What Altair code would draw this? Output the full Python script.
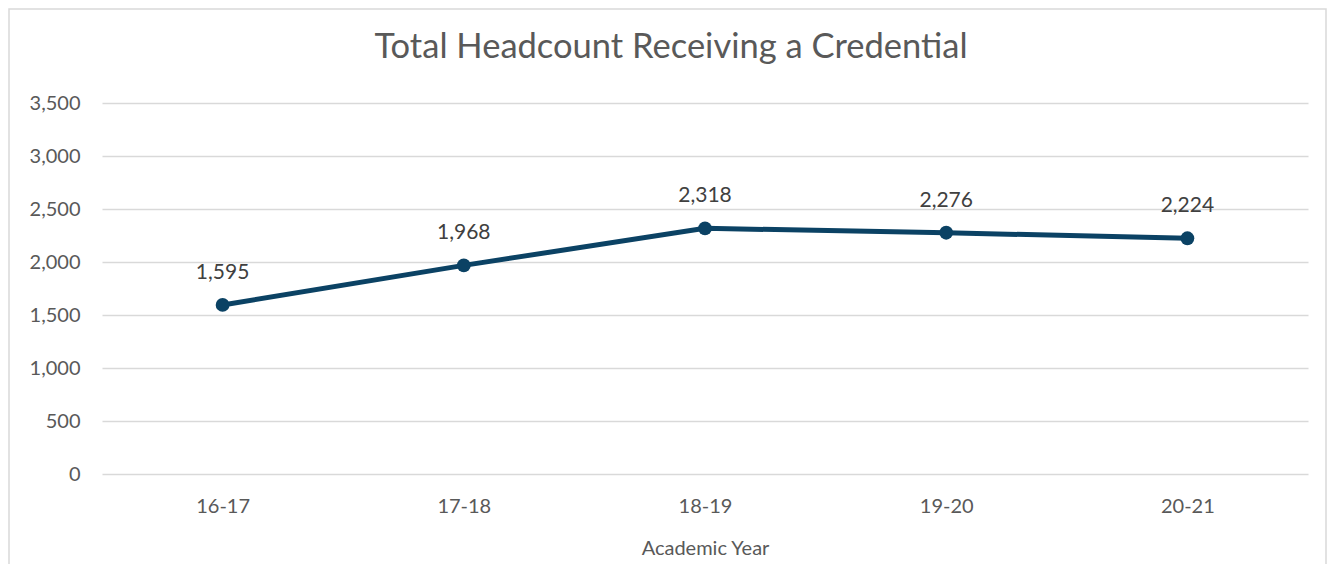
import altair as alt
import pandas as pd

years = ["16-17", "17-18", "18-19", "19-20", "20-21"]
headcount = [1595, 1968, 2318, 2276, 2224]
labels = ["1,595", "1,968", "2,318", "2,276", "2,224"]

df = pd.DataFrame({"year": years, "count": headcount, "label": labels})

FONT = "Lato"
GREY = "#595959"
LINE = "#0B4264"

x = alt.X("year:N", sort=years, title="Academic Year",
          scale=alt.Scale(paddingInner=0, paddingOuter=0),
          axis=alt.Axis(labelAngle=0, ticks=False, domain=False, grid=False, labelPadding=22,
                        labelFontSize=20, labelColor=GREY, labelFont=FONT,
                        titleFontSize=20, titleColor=GREY, titleFont=FONT,
                        titleFontWeight="normal", titlePadding=22))
y = alt.Y("count:Q", title=None,
          scale=alt.Scale(domain=[0, 3500]),
          axis=alt.Axis(values=[0, 500, 1000, 1500, 2000, 2500, 3000, 3500],
                        format=",d", ticks=False, domain=False, labelPadding=22,
                        labelFontSize=20, labelColor=GREY, labelFont=FONT,
                        gridColor="#d9d9d9", gridWidth=1.5))

base = alt.Chart(df)

frame = base.mark_rect(fill="white", fillOpacity=0, stroke="#d9d9d9", strokeWidth=1.5).encode(
    x=alt.value(-93), x2=alt.value(1224), y=alt.value(-94), y2=alt.value(470)
).transform_filter(alt.datum.year == "16-17")

line = base.mark_line(color=LINE, strokeWidth=5).encode(x=x, y=y)
points = base.mark_point(filled=True, color=LINE, size=190, opacity=1).encode(x=x, y=y)
text = base.mark_text(dy=-32, fontSize=21, font=FONT, color="#404040").encode(
    x=x, y=y, text="label:N")

chart = alt.layer(frame, line, points, text).properties(
    width=1206, height=371,
    background="white",
    title=alt.TitleParams("Total Headcount Receiving a Credential", font=FONT,
                          fontSize=34.5, fontWeight="normal", color=GREY,
                          anchor="middle", baseline="alphabetic", offset=0, dy=84, dx=-34),
    autosize=alt.AutoSizeParams(type="none"),
    padding={"left": 94, "top": 95, "right": 22, "bottom": 90},
).configure_view(stroke="transparent", strokeWidth=0)

chart.save("out.html", embed_options={"renderer": "svg", "actions": False})
